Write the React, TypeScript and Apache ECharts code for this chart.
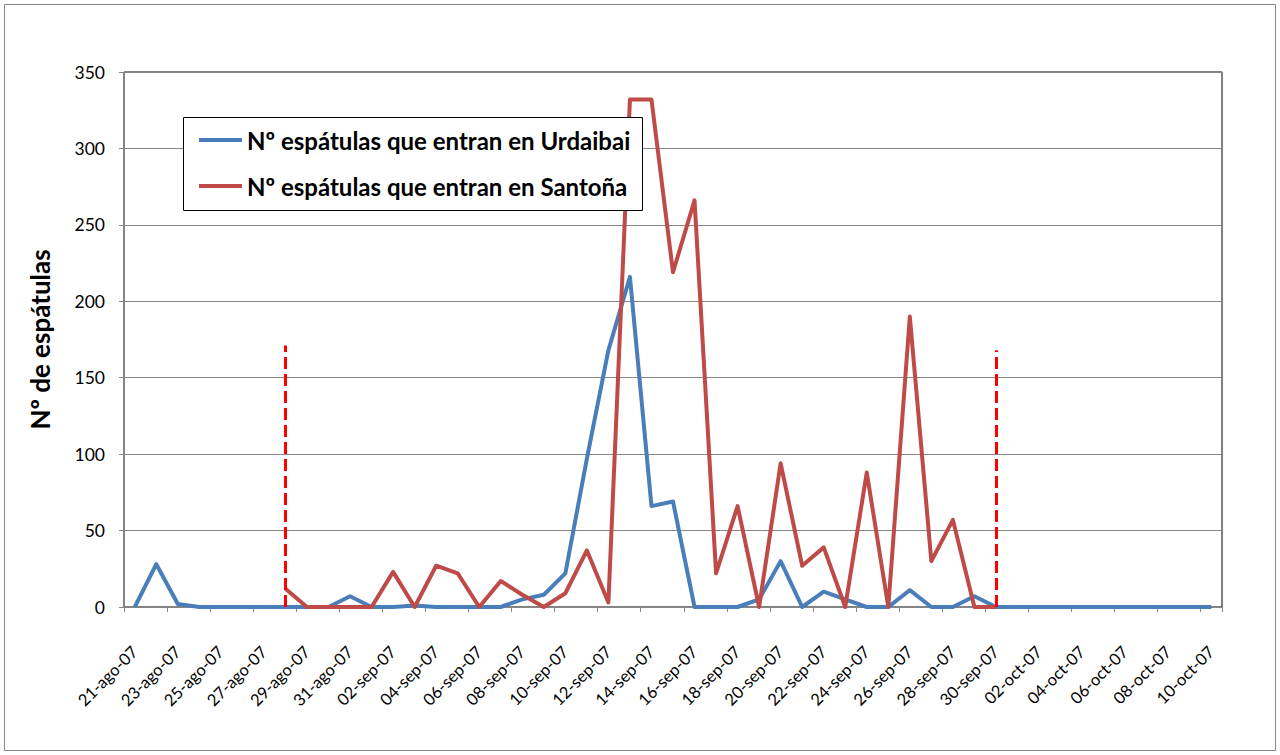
import { useEffect, useRef } from "react";
import * as echarts from "echarts";

const dates = [
  "21-ago-07", "22-ago-07", "23-ago-07", "24-ago-07", "25-ago-07", "26-ago-07", "27-ago-07",
  "28-ago-07", "29-ago-07", "30-ago-07", "31-ago-07",
  "01-sep-07", "02-sep-07", "03-sep-07", "04-sep-07", "05-sep-07", "06-sep-07", "07-sep-07",
  "08-sep-07", "09-sep-07", "10-sep-07", "11-sep-07", "12-sep-07", "13-sep-07", "14-sep-07",
  "15-sep-07", "16-sep-07", "17-sep-07", "18-sep-07", "19-sep-07", "20-sep-07", "21-sep-07",
  "22-sep-07", "23-sep-07", "24-sep-07", "25-sep-07", "26-sep-07", "27-sep-07", "28-sep-07",
  "29-sep-07", "30-sep-07",
  "01-oct-07", "02-oct-07", "03-oct-07", "04-oct-07", "05-oct-07", "06-oct-07", "07-oct-07",
  "08-oct-07", "09-oct-07", "10-oct-07",
];

const urdaibai = [
  0, 28, 2, 0, 0, 0, 0, 0, 0, 0, 7,
  0, 0, 1, 0, 0, 0, 0, 5, 8, 22, 97, 168, 216, 66, 69, 0, 0, 0, 5, 30,
  0, 10, 5, 0, 0, 11, 0, 0, 7, 0,
  0, 0, 0, 0, 0, 0, 0, 0, 0, 0,
];

const santona = [
  null, null, null, null, null, null, null, 12, 0, 0, 0,
  0, 23, 0, 27, 22, 0, 17, 8, 0, 9, 37, 3, 332, 332, 219, 266, 22, 66, 0, 94,
  27, 39, 0, 88, 0, 190, 30, 57, 0, 0,
  null, null, null, null, null, null, null, null, null, null,
];

const seriesNames = [
  "Nº espátulas que entran en Urdaibai",
  "Nº espátulas que entran en Santoña",
];

const markerDates = ["28-ago-07", "30-sep-07"];
const markerTops = [171, 168];

const yAxisTitle = "Nº de espátulas";

export default function App() {
  const ref = useRef<HTMLDivElement>(null);

  useEffect(() => {
    if (!ref.current) return;
    const chart = echarts.init(ref.current, null, { renderer: "svg" });
    const font = "Lato, 'Open Sans', sans-serif";
    const gray = "#868686";

    chart.setOption({
      animation: false,
      backgroundColor: "#ffffff",
      textStyle: { fontFamily: font },
      graphic: [
        {
          type: "rect",
          shape: { x: 4.5, y: 4.5, width: 1271, height: 746 },
          style: { fill: "none", stroke: gray, lineWidth: 1 },
          silent: true,
        },
        {
          type: "rect",
          shape: { x: 183.5, y: 117.5, width: 459, height: 93 },
          style: { fill: "#ffffff", stroke: "#000000", lineWidth: 1 },
          silent: true,
          z: 50,
        },
      ],
      grid: {
        left: 124,
        top: 72,
        width: 1098,
        height: 535,
        show: true,
        borderColor: "#000000",
        borderWidth: 1,
        backgroundColor: "transparent",
      },
      legend: {
        orient: "vertical",
        left: 183,
        top: 117,
        padding: [11, 12, 11, 16],
        itemGap: 22,
        itemWidth: 43,
        itemHeight: 4,
        icon: "rect",
        z: 60,
        textStyle: {
          fontFamily: font,
          fontWeight: "bold",
          fontSize: 24,
          color: "#000000",
        },
        data: seriesNames,
      },
      xAxis: {
        type: "category",
        data: dates,
        boundaryGap: true,
        axisLine: { show: true, lineStyle: { color: gray, width: 1 } },
        axisTick: { show: true, interval: 1, length: 5, lineStyle: { color: gray } },
        axisLabel: {
          interval: 1,
          rotate: 45,
          margin: 42,
          fontSize: 16.5,
          color: "#000000",
          fontFamily: font,
        },
        splitLine: { show: false },
      },
      yAxis: {
        type: "value",
        min: 0,
        max: 350,
        interval: 50,
        name: yAxisTitle,
        nameLocation: "middle",
        nameRotate: 90,
        nameGap: 71,
        nameTextStyle: {
          fontFamily: font,
          fontWeight: "bold",
          fontSize: 26,
          color: "#000000",
        },
        axisLine: { show: true, lineStyle: { color: gray, width: 1 } },
        axisTick: { show: true, length: 5, lineStyle: { color: gray } },
        axisLabel: {
          margin: 19,
          fontSize: 17.5,
          color: "#000000",
          fontFamily: font,
        },
        splitLine: { show: true, lineStyle: { color: gray, width: 1 } },
      },
      series: [
        {
          name: seriesNames[0],
          type: "line",
          data: urdaibai,
          symbol: "none",
          color: "#4A7EBB",
          lineStyle: { color: "#4A7EBB", width: 4, join: "round" },
          z: 3,
        },
        {
          name: seriesNames[1],
          type: "line",
          data: santona,
          symbol: "none",
          color: "#BE4B48",
          lineStyle: { color: "#BE4B48", width: 4, join: "round" },
          z: 4,
          markLine: {
            silent: true,
            symbol: ["none", "none"],
            label: { show: false },
            lineStyle: { color: "#FF0000", width: 3, type: [12, 5] },
            data: markerDates.map((d, i) => [
              { coord: [d, 0] },
              { coord: [d, markerTops[i]] },
            ]),
          },
        },
      ],
    });

    return () => chart.dispose();
  }, []);

  return (
    <div
      ref={ref}
      style={{ position: "fixed", left: 0, top: 0, width: 1280, height: 755 }}
    />
  );
}
